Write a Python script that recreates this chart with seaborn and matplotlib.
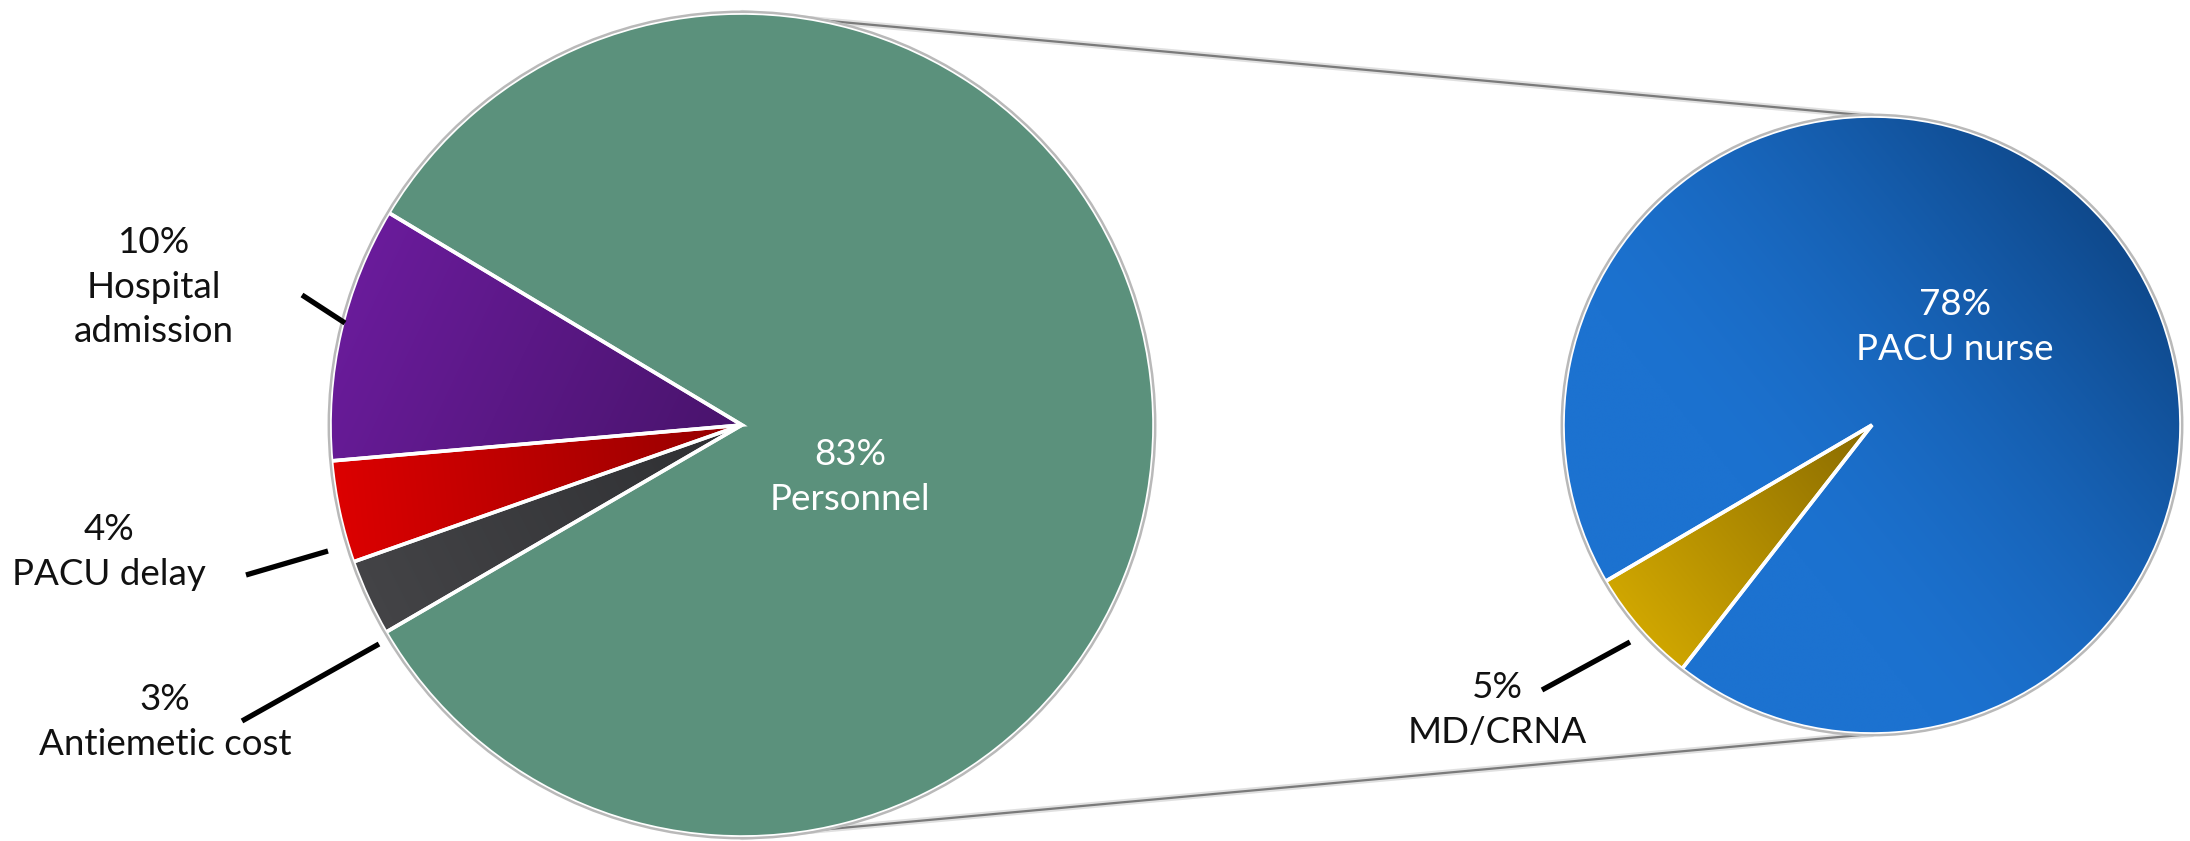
import numpy as np
import matplotlib
matplotlib.use("Agg")
import matplotlib.pyplot as plt
import seaborn as sns
from matplotlib.colors import to_rgb
from matplotlib.patches import Wedge, Circle

# Cost breakdown (percent of total cost)
cost_labels = ["Hospital\nadmission", "PACU delay", "Antiemetic cost", "Personnel"]
cost_shares = [10, 4, 3, 83]

# Split of the personnel share
personnel_labels = ["MD/CRNA", "PACU nurse"]
personnel_shares = [5, 78]

W, H = 2190, 841

sns.set_theme(style="white")
plt.rcParams["font.family"] = ["Lato", "DejaVu Sans"]

fig = plt.figure(figsize=(W / 100, H / 100), dpi=100)
ax = fig.add_axes([0, 0, 1, 1])


def py(y):
    """Pixel row (top-down) to data y (bottom-up)."""
    return H - y


main_center, main_radius = (742, py(425)), 412
sub_center, sub_radius = (1872, py(425)), 309

# connector lines from the main pie to the detail pie
for sgn in (1, -1):
    xs = [main_center[0], sub_center[0]]
    ys = [main_center[1] + sgn * main_radius, sub_center[1] + sgn * sub_radius]
    ax.plot(xs, ys, color="#555555", lw=4.5, alpha=0.18, zorder=0.5,
            solid_capstyle="round")
    ax.plot(xs, ys, color="#7a7a7a", lw=1.6, zorder=0.6)

main_flat = ["#5b1a85", "#c00000", "#3b3b3e", "#5b917c"]
sub_flat = ["#b48f00", "#1a6cc6"]

main_wedges, _ = ax.pie(cost_shares, center=main_center, radius=main_radius,
                        startangle=149, counterclock=True, colors=main_flat,
                        wedgeprops=dict(linewidth=0), frame=True)
sub_wedges, _ = ax.pie(personnel_shares, center=sub_center, radius=sub_radius,
                       startangle=210.4, counterclock=True, colors=sub_flat,
                       wedgeprops=dict(linewidth=0), frame=True)


def shade(wedge, center, radius, colour_fn):
    cx, cy = center
    n = 400
    xs = np.linspace(cx - radius, cx + radius, n)
    ys = np.linspace(cy - radius, cy + radius, n)
    X, Y = np.meshgrid(xs, ys)
    img = colour_fn(X, Y)
    im = ax.imshow(img, extent=(cx - radius, cx + radius, cy - radius, cy + radius),
                   origin="lower", zorder=1.5, interpolation="bilinear")
    im.set_clip_path(wedge)


def linear(c0, c1, p0, p1, power=1.0):
    a, b = np.array(to_rgb(c0)), np.array(to_rgb(c1))
    p0, p1 = np.array(p0, float), np.array(p1, float)
    d = p1 - p0

    def fn(X, Y):
        t = ((X - p0[0]) * d[0] + (Y - p0[1]) * d[1]) / (d @ d)
        t = np.clip(t, 0, 1)[..., None] ** power
        return a + t * (b - a)
    return fn


mx, my = main_center
shade(main_wedges[0], main_center, main_radius,
      linear("#6c1c9e", "#4a146e", (mx - 400, my + 180), (mx - 20, my)))
shade(main_wedges[1], main_center, main_radius,
      linear("#dc0000", "#980000", (mx - 410, my - 40), (mx - 20, my)))
shade(main_wedges[2], main_center, main_radius,
      linear("#444447", "#2f3033", (mx - 380, my - 180), (mx - 20, my)))

sx, sy = sub_center
shade(sub_wedges[0], sub_center, sub_radius,
      linear("#d4aa00", "#8c6d00", (sx - 260, sy - 200), (sx - 10, sy)))
shade(sub_wedges[1], sub_center, sub_radius,
      linear("#1c72d0", "#0d4382", (sx - 130, sy - 60), (sx + 250, sy + 250),
             power=1.5))

# white separators between slices and a thin grey rim
for wedges, center, radius in ((main_wedges, main_center, main_radius),
                               (sub_wedges, sub_center, sub_radius)):
    for w in wedges:
        ax.add_patch(Wedge(center, radius, w.theta1, w.theta2, fill=False,
                           ec="white", lw=2.6, zorder=3))
    ax.add_patch(Circle(center, radius + 1.2, fill=False, ec="#b9b9b9",
                        lw=1.8, zorder=4))

FS = 26.5


def label(x, y, lines, color="#111111"):
    for (dy, txt) in lines:
        ax.text(x, py(y + dy), txt, ha="center", va="baseline",
                fontsize=FS, color=color, zorder=6)


def pct(v):
    return f"{v}%"


# outside labels for the small cost slices
label(154, 253, [(0, pct(cost_shares[0])),
                 (45, cost_labels[0].split("\n")[0]),
                 (89, cost_labels[0].split("\n")[1])])
label(109, 540, [(0, pct(cost_shares[1])), (45, cost_labels[1])])
label(165, 710, [(0, pct(cost_shares[2])), (45, cost_labels[2])])
label(850, 465, [(0, pct(cost_shares[3])), (45, cost_labels[3])], color="white")

label(1955, 315, [(0, pct(personnel_shares[1])), (45, personnel_labels[1])],
      color="white")
label(1497, 698, [(0, pct(personnel_shares[0])), (45, personnel_labels[0])])

# leader lines
leaders = [((302, 295), (345, 323)),
           ((246, 575), (328, 551)),
           ((242, 721), (379, 644)),
           ((1542, 690), (1630, 642))]
for (x0, y0), (x1, y1) in leaders:
    ax.plot([x0, x1], [py(y0), py(y1)], color="black", lw=3.8,
            solid_capstyle="butt", zorder=6)

ax.set_xlim(0, W)
ax.set_ylim(0, H)
ax.set_aspect("equal", adjustable="box")
ax.axis("off")

fig.savefig("out.png", dpi=100, facecolor="white")
